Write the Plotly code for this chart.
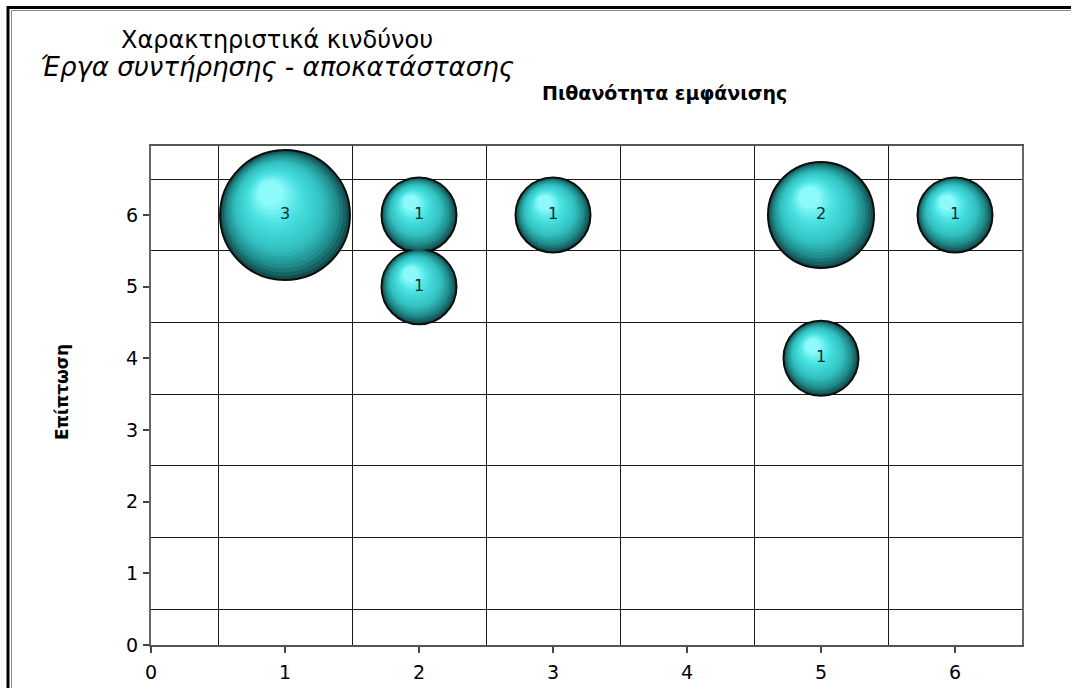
import numpy as np
import plotly.graph_objects as go

# Risk register: probability (x), impact (y), number of risks at each cell
probability = [1, 2, 2, 3, 5, 5, 6]
impact = [6, 6, 5, 6, 6, 4, 6]
risk_count = [3, 1, 1, 1, 2, 1, 1]

x_ticks = [0, 1, 2, 3, 4, 5, 6]
y_ticks = [0, 1, 2, 3, 4, 5, 6]

title_line1 = "Χαρακτηριστικά κινδύνου"
title_line2 = "Έργα συντήρησης - αποκατάστασης"
x_title = "Πιθανότητα εμφάνισης"
y_title = "Επίπτωση"

FONT = "DejaVu Sans, Liberation Sans, Arial"

# Figure geometry
W, H = 1071, 688
M_L, M_R, M_T, M_B = 151, 49, 146, 43
X_RANGE = [0, 6.5]
Y_RANGE = [0, 6.963]
plot_w = W - M_L - M_R
plot_h = H - M_T - M_B
px_per_x = plot_w / (X_RANGE[1] - X_RANGE[0])
px_per_y = plot_h / (Y_RANGE[1] - Y_RANGE[0])

# Bubble area proportional to the count
D1 = 75.0  # diameter in px for a count of 1
sizeref = 2.0 / D1 ** 2

cnt = np.array(risk_count, dtype=float)
px_r = D1 * np.sqrt(cnt) / 2.0
px_arr = np.array(probability, dtype=float)
py_arr = np.array(impact, dtype=float)


def to_px(px):
    return (px - M_L) / plot_w


def to_py(py):
    return (H - M_B - py) / plot_h


def shade(t):
    # dark rim -> turquoise body -> pale highlight
    stops = [(0.0, (18, 78, 78)), (0.16, (32, 140, 140)),
             (0.38, (50, 192, 192)), (0.72, (72, 224, 224)),
             (1.0, (140, 250, 250))]
    for (t0, c0), (t1, c1) in zip(stops[:-1], stops[1:]):
        if t <= t1:
            u = (t - t0) / (t1 - t0)
            c = [round(a + (b - a) * u) for a, b in zip(c0, c1)]
            return "rgb({},{},{})".format(*c)
    return "rgb({},{},{})".format(*stops[-1][1])


fig = go.Figure()

# Sphere shading: stacked disks shrinking toward the upper-left light spot
n_layers = 20
ux, uy = -0.55, 0.83
for i, t in enumerate(np.linspace(0, 1, n_layers)):
    f = 1 - 0.8 * t
    off = (1 - f) * px_r * 0.5
    fig.add_trace(go.Scatter(
        x=px_arr + ux * off / px_per_x,
        y=py_arr + uy * off / px_per_y,
        mode="markers",
        marker=dict(size=cnt * f * f, sizemode="area", sizeref=sizeref,
                    color=shade(t), opacity=1,
                    line=dict(color="#0d0d0d", width=2) if i == 0 else dict(width=0)),
        hoverinfo="skip", showlegend=False,
    ))

# count labels
fig.add_trace(go.Scatter(
    x=probability, y=impact, mode="text",
    text=[str(c) for c in risk_count], textposition="middle center",
    textfont=dict(family=FONT, size=16, color="#0f2f2f"),
    hovertemplate="Πιθανότητα %{x}<br>Επίπτωση %{y}<br>%{text}<extra></extra>",
    showlegend=False,
))

axis_font = dict(family=FONT, size=19, color="#000000")

fig.update_layout(
    width=W, height=H,
    margin=dict(l=M_L, r=M_R, t=M_T, b=M_B, pad=0, autoexpand=False),
    paper_bgcolor="white", plot_bgcolor="white",
    xaxis=dict(
        range=X_RANGE, tickvals=x_ticks, ticks="outside", ticklen=6,
        tickcolor="#444444", tickwidth=1.5, tickfont=axis_font,
        ticklabelstandoff=3, automargin=False,
        showgrid=False, zeroline=False,
        showline=True, linecolor="#555555", linewidth=2, mirror=True,
        minor=dict(tick0=0.5, dtick=1, showgrid=True, gridcolor="#1a1a1a",
                   gridwidth=1, ticklen=0),
    ),
    yaxis=dict(
        range=Y_RANGE, tickvals=y_ticks, ticks="outside", ticklen=6,
        tickcolor="#444444", tickwidth=1.5, tickfont=axis_font,
        ticklabelstandoff=1, automargin=False,
        showgrid=False, zeroline=False,
        showline=True, linecolor="#666666", linewidth=2, mirror=True,
        minor=dict(tick0=0.5, dtick=1, showgrid=True, gridcolor="#1a1a1a",
                   gridwidth=1, ticklen=0),
    ),
    shapes=[
        # outer frame of the chart sheet
        dict(type="rect", xref="paper", yref="paper",
             x0=to_px(8), x1=to_px(1090), y0=to_py(710), y1=to_py(7.5),
             line=dict(color="#000000", width=3), layer="above"),
        dict(type="rect", xref="paper", yref="paper",
             x0=to_px(11.5), x1=to_px(1087), y0=to_py(707), y1=to_py(10.5),
             line=dict(color="#8a8a8a", width=1), layer="above"),
    ],
    annotations=[
        dict(text=title_line1, xref="paper", yref="paper",
             x=to_px(277), y=to_py(40), xanchor="center", yanchor="middle",
             showarrow=False,
             font=dict(family=FONT, size=24, color="#000")),
        dict(text="<i>" + title_line2 + "</i>", xref="paper", yref="paper",
             x=to_px(277), y=to_py(67), xanchor="center", yanchor="middle",
             showarrow=False,
             font=dict(family=FONT, size=26, color="#000")),
        dict(text="<b>" + x_title + "</b>", xref="paper", yref="paper",
             x=to_px(664), y=to_py(93), xanchor="center", yanchor="middle",
             showarrow=False,
             font=dict(family=FONT, size=19, color="#000")),
        dict(text="<b>" + y_title + "</b>", xref="paper", yref="paper",
             x=to_px(62), y=to_py(392), xanchor="center", yanchor="middle",
             textangle=-90, showarrow=False,
             font=dict(family=FONT, size=17, color="#000")),
    ],
)

fig.write_html("out.html")
